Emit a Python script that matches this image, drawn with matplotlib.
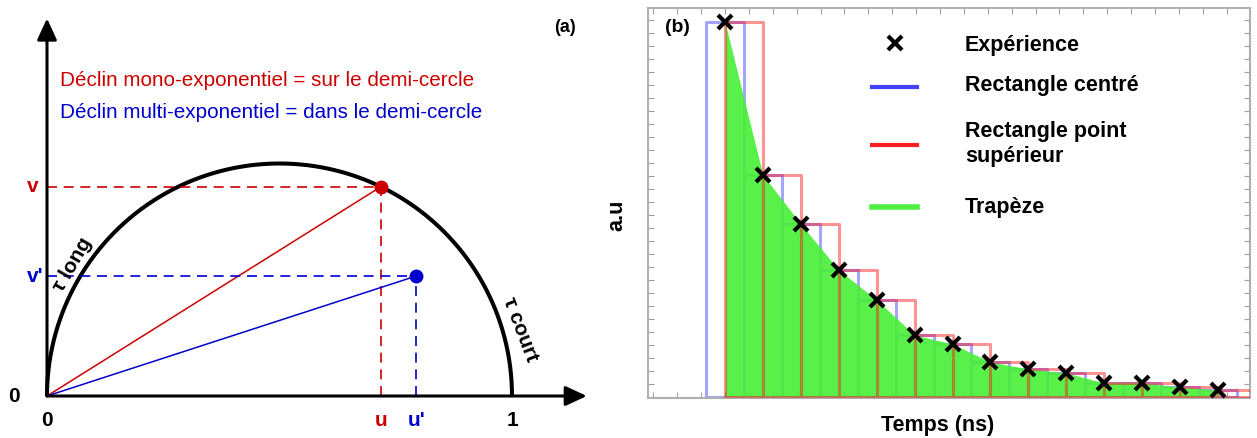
import matplotlib
import matplotlib.pyplot as plt
import matplotlib.ticker as mticker
import numpy as np
from matplotlib.lines import Line2D

matplotlib.use("Agg")

plt.rcParams["font.family"] = ["Liberation Sans", "DejaVu Sans"]

W, H = 1257, 438

# panel (a): phasor points (normalised u, v)
U_MONO, V_MONO = 0.718, 0.450
U_MULTI, V_MULTI = 0.794, 0.258

# panel (b): decay samples (a.u.)
DECAY = [375, 222, 173, 127, 97, 62, 53, 35, 28, 24, 14, 14, 10, 7]

RED = "#cc0000"
BLUE = "#0000cc"


def px(x, y):
    return x / W, 1 - y / H


def rect_outline(lefts, width, heights):
    # one path for all rectangles, so that shared edges are not drawn twice
    xs, ys = [], []
    for x0, h in zip(lefts, heights):
        xs += [x0, x0, x0 + width, x0 + width, x0, np.nan]
        ys += [0, h, h, 0, 0, np.nan]
    return xs, ys


fig = plt.figure(figsize=(W / 100, H / 100), dpi=100)

# ---------------- panel (a) ----------------
ax = fig.add_axes([0, 0, 600 / W, 1])
ax.set_xlim(-47 / 465, 553 / 465)
ax.set_ylim(-42 / 465, 396 / 465)
ax.axis("off")

arrow = dict(arrowstyle="-|>,head_length=0.65,head_width=0.3",
             mutation_scale=20, lw=2.2, color="k", shrinkA=0, shrinkB=0)
ax.annotate("", xy=(1.161, 0), xytext=(0, 0), arrowprops=arrow)
ax.annotate("", xy=(0, 0.812), xytext=(0, 0), arrowprops=arrow)

th = np.linspace(0, np.pi, 300)
ax.plot(0.5 + 0.5 * np.cos(th), 0.5 * np.sin(th), color="k", lw=2.9,
        solid_capstyle="butt")

for u, v, c in [(U_MONO, V_MONO, RED), (U_MULTI, V_MULTI, BLUE)]:
    ax.plot([0, u], [0, v], color=c, lw=1.1)
    ax.plot([0, u], [v, v], color=c, lw=1.2, ls=(0, (6, 4)))
    ax.plot([u, u], [0, v], color=c, lw=1.2, ls=(0, (6, 4)))
    ax.plot(u, v, "o", color=c, ms=9, zorder=5)

lab = dict(fontsize=15, fontweight="bold", ha="center", va="center")
ax.text(-0.03, V_MONO, "v", color=RED, **lab)
ax.text(-0.025, V_MULTI, "v'", color=BLUE, **lab)
ax.text(U_MONO, -0.052, "u", color=RED, **lab)
ax.text(U_MULTI, -0.052, "u'", color=BLUE, **lab)
ax.text(1.0, -0.052, "1", **lab)
ax.text(0.0, -0.052, "0", **lab)
ax.text(-0.071, 0.0, "0", **lab)
ax.text((565 - 47) / 465, (396 - 28) / 465, "(a)", fontsize=13,
        fontweight="bold", ha="center", va="center")

ax.text(13 / 465, (396 - 80) / 465, "Déclin mono-exponentiel = sur le demi-cercle",
        color=RED, fontsize=14.9, va="center")
ax.text(13 / 465, (396 - 112) / 465, "Déclin multi-exponentiel = dans le demi-cercle",
        color=BLUE, fontsize=14.9, va="center")

ax.text(0.055, 0.282, "τ long", fontsize=15, fontweight="bold", rotation=60,
        ha="center", va="center")
ax.text(1.017, 0.142, "τ court", fontsize=15, fontweight="bold", rotation=-69,
        ha="center", va="center")

# ---------------- panel (b) ----------------
L, R, T, B = 648, 1250, 8, 398
bx = fig.add_axes([L / W, 1 - B / H, (R - L) / W, (B - T) / H])
t = np.arange(len(DECAY))
step = 37.92
bx.set_xlim((L - 725) / step, (R - 725) / step)
bx.set_ylim(-1, 389)

bxs, bys = rect_outline(t - 0.5, 1, DECAY)
bx.plot(bxs, bys, color="#2020ff", alpha=0.4, lw=2.2, zorder=1)
bx.fill_between(t, DECAY, 0, color="#48ef36", alpha=0.9, lw=0, zorder=2)
rxs, rys = rect_outline(t, 1, DECAY)
bx.plot(rxs, rys, color="#ff1010", alpha=0.45, lw=2.2, zorder=3)
bx.plot(t, DECAY, "x", color="k", ms=10, mew=3, zorder=4)

for s in bx.spines.values():
    s.set_color("#b0b0b0")
    s.set_linewidth(1.5)
bx.xaxis.set_major_locator(mticker.MultipleLocator(0.63))
bx.yaxis.set_major_locator(mticker.MultipleLocator(13))
bx.tick_params(which="both", direction="in", length=4, color="#a0a0a0",
               top=True, right=True, labelbottom=False, labelleft=False)


def afrac(x, y):
    return (x - L) / (R - L), (B - y) / (B - T)


leg_handles = [
    (Line2D([], [], ls="none", marker="x", color="k", ms=10, mew=3), 43, "Expérience", 45),
    (Line2D([], [], color="#4040ff", lw=3), 87, "Rectangle centré", 86),
    (Line2D([], [], color="#ff2020", lw=3), 145, "Rectangle point\nsupérieur", 144),
    (Line2D([], [], color="#50ee40", lw=4), 207, "Trapèze", 207),
]
for h, hy, txt, ty in leg_handles:
    x0, y0 = afrac(872, hy)
    x1, _ = afrac(917, hy)
    if h.get_marker() == "x":
        h.set_data([(x0 + x1) / 2], [y0])
    else:
        h.set_data([x0, x1], [y0, y0])
    h.set_transform(bx.transAxes)
    bx.add_line(h)
    tx, tyf = afrac(965, ty)
    bx.text(tx, tyf, txt, transform=bx.transAxes, fontsize=15.5,
            fontweight="bold", va="center", ha="left", linespacing=1.2)

bx.text(*afrac(677, 28), "(b)", transform=bx.transAxes, fontsize=14,
        fontweight="bold", ha="center", va="center")

fig.text(*px(617, 215), "a.u", fontsize=15.5, fontweight="bold", rotation=90,
         ha="center", va="center")
fig.text(*px(938, 425), "Temps (ns)", fontsize=15.5, fontweight="bold",
         ha="center", va="center")

fig.savefig("out.png", dpi=100)
